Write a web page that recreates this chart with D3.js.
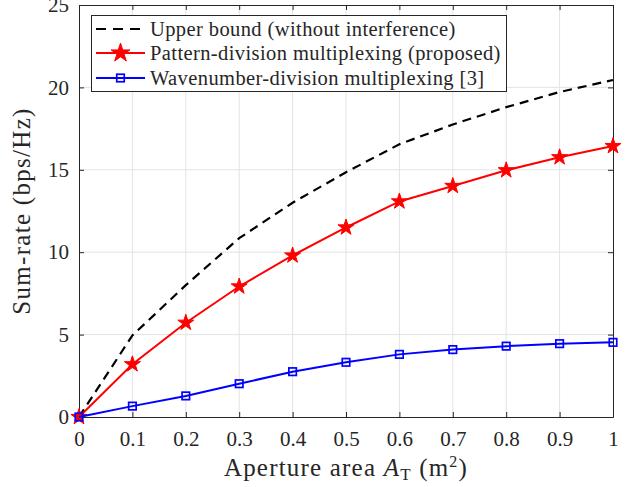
<!DOCTYPE html>
<html><head><meta charset="utf-8">
<script src="https://cdn.jsdelivr.net/npm/d3@7"></script>
<style>body{margin:0;background:#fff}svg{display:block}text{font-family:"Liberation Serif","DejaVu Serif",serif;fill:#262626}</style>
</head><body><svg id="c" width="637" height="487"></svg>
<script>
const xValues = [0,0.1,0.2,0.3,0.4,0.5,0.6,0.7,0.8,0.9,1.0];
const upperBound = [0,4.95,8.0,10.85,13.0,14.85,16.55,17.75,18.8,19.72,20.45];
const patternDiv = [0,3.2,5.72,7.92,9.8,11.5,13.08,14.02,14.97,15.76,16.44];
const wavenumberDiv = [0,0.66,1.28,2.02,2.75,3.32,3.8,4.09,4.3,4.45,4.53];
const xTicks = [0,0.1,0.2,0.3,0.4,0.5,0.6,0.7,0.8,0.9,1];
const yTicks = [0,5,10,15,20,25];
const legendLabels = ["Upper bound (without interference)","Pattern-division multiplexing (proposed)","Wavenumber-division multiplexing [3]"];

const svg = d3.select("#c");
const L=79,R=613,T=5,B=417;
const x = d3.scaleLinear().domain([0,1]).range([L,R]);
const y = d3.scaleLinear().domain([0,25]).range([B,T]);
const axisCol="#262626";

// grid
const g = svg.append("g");
g.selectAll(".gx").data(xTicks.slice(1,-1)).enter().append("line")
 .attr("x1",d=>x(d)).attr("x2",d=>x(d)).attr("y1",T).attr("y2",B)
 .attr("stroke","#e3e3e3").attr("stroke-width",1);
g.selectAll(".gy").data(yTicks.slice(1,-1)).enter().append("line")
 .attr("y1",d=>y(d)).attr("y2",d=>y(d)).attr("x1",L).attr("x2",R)
 .attr("stroke","#e3e3e3").attr("stroke-width",1);

// axes
const fmt = d=> d===0?"0":(d===1?"1":d3.format(".1f")(d));
const xAxisB = d3.axisBottom(x).tickValues(xTicks).tickFormat(fmt).tickSizeInner(-5).tickSizeOuter(0).tickPadding(14);
const xAxisT = d3.axisTop(x).tickValues(xTicks).tickFormat("").tickSizeInner(-5).tickSizeOuter(0);
const yAxisL = d3.axisLeft(y).tickValues(yTicks).tickSizeInner(-5).tickSizeOuter(0).tickPadding(10);
const yAxisR = d3.axisRight(y).tickValues(yTicks).tickFormat("").tickSizeInner(-5).tickSizeOuter(0);
function style(sel){sel.selectAll("path,line").attr("stroke",axisCol).attr("stroke-width",1);sel.selectAll("text").attr("fill",axisCol).attr("font-size",21).attr("font-family","Liberation Serif");}
svg.append("g").attr("transform",`translate(0,${B})`).call(xAxisB).call(style);
svg.append("g").attr("transform",`translate(0,${T})`).call(xAxisT).call(style);
svg.append("g").attr("transform",`translate(${L},0)`).call(yAxisL).call(style);
svg.append("g").attr("transform",`translate(${R},0)`).call(yAxisR).call(style);
svg.selectAll(".domain").attr("stroke",axisCol);

// axis labels
const xl = svg.append("text").attr("x",(L+R)/2).attr("y",476).attr("text-anchor","middle").attr("font-size",25).attr("letter-spacing",1.2);
xl.append("tspan").text("Aperture area ");
xl.append("tspan").attr("font-style","italic").text("A");
xl.append("tspan").attr("font-size",17).attr("dy",4).text("T");
xl.append("tspan").attr("dy",-4).text(" (m");
xl.append("tspan").attr("font-size",16).attr("dy",-9).text("2");
xl.append("tspan").attr("dy",9).text(")");
svg.append("text").attr("transform",`translate(30,${(T+B)/2}) rotate(-90)`).attr("text-anchor","middle").attr("font-size",25).attr("letter-spacing",1.3).text("Sum-rate (bps/Hz)");

// lines
const pts = arr => xValues.map((v,i)=>[x(v),y(arr[i])]);
const line = d3.line();
svg.append("path").attr("d",line(pts(upperBound))).attr("fill","none").attr("stroke","#000").attr("stroke-width",2.2).attr("stroke-dasharray","9,6");
svg.append("path").attr("d",line(pts(patternDiv))).attr("fill","none").attr("stroke","#ff0000").attr("stroke-width",2);
const star = d3.symbol().type(d3.symbolStar).size(80);
svg.selectAll(".st").data(pts(patternDiv)).enter().append("path").attr("d",star)
 .attr("transform",d=>`translate(${d[0]},${d[1]})`).attr("fill","#ff0000").attr("stroke","#ff0000").attr("stroke-width",1);
svg.append("path").attr("d",line(pts(wavenumberDiv))).attr("fill","none").attr("stroke","#0000ff").attr("stroke-width",2);
svg.selectAll(".sq").data(pts(wavenumberDiv)).enter().append("rect")
 .attr("x",d=>d[0]-3.75).attr("y",d=>d[1]-3.75).attr("width",7.5).attr("height",7.5)
 .attr("fill","none").attr("stroke","#0000ff").attr("stroke-width",1.7);

// legend
const lg = svg.append("g");
lg.append("rect").attr("x",91.5).attr("y",15.5).attr("width",415).attr("height",76).attr("fill","#fff").attr("stroke",axisCol).attr("stroke-width",1);
const rows=[29,53,78];
const x0=96,x1=145,xm=(x0+x1)/2;
lg.append("line").attr("x1",x0).attr("x2",x1).attr("y1",rows[0]).attr("y2",rows[0]).attr("stroke","#000").attr("stroke-width",2.2).attr("stroke-dasharray","10,7");
lg.append("line").attr("x1",x0).attr("x2",x1).attr("y1",rows[1]).attr("y2",rows[1]).attr("stroke","#ff0000").attr("stroke-width",2);
lg.append("path").attr("d",d3.symbol().type(d3.symbolStar).size(110)).attr("transform",`translate(${xm},${rows[1]})`).attr("fill","#ff0000").attr("stroke","#ff0000");
lg.append("line").attr("x1",x0).attr("x2",x1).attr("y1",rows[2]).attr("y2",rows[2]).attr("stroke","#0000ff").attr("stroke-width",2);
lg.append("rect").attr("x",xm-3.75).attr("y",rows[2]-3.75).attr("width",7.5).attr("height",7.5).attr("fill","none").attr("stroke","#0000ff").attr("stroke-width",1.7);
lg.selectAll(".lt").data(legendLabels).enter().append("text").attr("x",150).attr("y",(d,i)=>rows[i]).attr("dy","0.33em").attr("font-size",20.5).attr("letter-spacing",0.4).text(d=>d);
</script></body></html>
